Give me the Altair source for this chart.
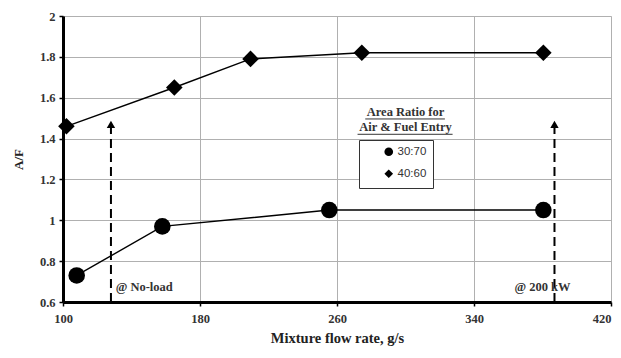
import altair as alt
import pandas as pd

# Data
flow_3070 = [108, 158, 255.5, 380.5]
af_3070 = [0.73, 0.97, 1.05, 1.05]
flow_4060 = [102, 165, 209.5, 274.5, 380.5]
af_4060 = [1.46, 1.65, 1.79, 1.82, 1.82]
series_names = ["30:70", "40:60"]

arrow_x = [128, 387]
arrow_bottom = [0.6, 0.6]
arrow_top = [1.47, 1.47]
arrow_labels = ["@ No-load", "@ 200 kW"]

legend_title_lines = ["Area Ratio for", "Air & Fuel Entry"]

x_ticks = [100, 180, 260, 340, 420]
y_ticks = [0.6, 0.8, 1.0, 1.2, 1.4, 1.6, 1.8, 2.0]

SERIF = "Liberation Serif"

rows = []
for x, y in zip(flow_3070, af_3070):
    rows.append({"flow": x, "af": y, "series": series_names[0]})
for x, y in zip(flow_4060, af_4060):
    rows.append({"flow": x, "af": y, "series": series_names[1]})
df = pd.DataFrame(rows)

xscale = alt.Scale(domain=[100, 420], nice=False, zero=False)
yscale = alt.Scale(domain=[0.6, 2.0], nice=False, zero=False)

xaxis = alt.Axis(values=x_ticks, title="Mixture flow rate, g/s", grid=True, labelFlush=False,
                 labelAlign=alt.condition("datum.value >= 420", alt.value("right"), alt.value("center")),
                 gridColor="#b0b0b0", gridWidth=1, domainColor="black", domainWidth=3,
                 tickColor="black", tickSize=4, tickWidth=1.5,
                 labelFont=SERIF, labelFontWeight="bold", labelFontSize=12.5, labelColor="#333",
                 labelPadding=6, titleFont=SERIF, titleFontWeight="bold", titleFontSize=14.5,
                 titleColor="#222", titlePadding=7)
yaxis = alt.Axis(values=y_ticks, title="A/F", grid=True, format="~g", labelFlush=False,
                 gridColor="#b0b0b0", gridWidth=1, domainColor="black", domainWidth=3,
                 tickColor="black", tickSize=4, tickWidth=1.5,
                 labelFont=SERIF, labelFontWeight="bold", labelFontSize=12.5, labelColor="#333",
                 labelPadding=4, titleFont=SERIF, titleFontWeight="bold", titleFontSize=13,
                 titleColor="#222", titlePadding=14)

base = alt.Chart(df)

lines = base.mark_line(color="black", strokeWidth=1.4).encode(
    x=alt.X("flow:Q", scale=xscale, axis=xaxis),
    y=alt.Y("af:Q", scale=yscale, axis=yaxis),
    detail="series:N",
)

points = base.mark_point(filled=True, opacity=1, size=275).encode(
    x=alt.X("flow:Q", scale=xscale),
    y=alt.Y("af:Q", scale=yscale),
    shape=alt.Shape("series:N",
                    scale=alt.Scale(domain=series_names, range=["circle", "diamond"]),
                    legend=alt.Legend(orient="none", legendX=296, legendY=124, title=None,
                                      strokeColor="#333", fillColor="white", padding=6,
                                      labelFont="Liberation Sans", labelFontSize=11.5,
                                      labelColor="#333", symbolFillColor="black",
                                      symbolStrokeColor="black", symbolSize=75,
                                      symbolType="circle",
                                      rowPadding=6, labelLimit=100, labelOffset=3,
                                      symbolOffset=18,
                                      labelExpr="datum.label + '            '")),
    color=alt.value("black"),
)

adf = pd.DataFrame({"x": arrow_x, "y0": arrow_bottom, "y1": arrow_top, "label": arrow_labels})

arrows = alt.Chart(adf).mark_rule(color="black", strokeWidth=2, strokeDash=[9, 5]).encode(
    x=alt.X("x:Q", scale=xscale), y=alt.Y("y0:Q", scale=yscale), y2="y1:Q")
heads = alt.Chart(adf).mark_point(shape="triangle-up", filled=True, color="black", size=70, opacity=1).encode(
    x=alt.X("x:Q", scale=xscale), y=alt.Y("y1:Q", scale=yscale))

label_df = pd.DataFrame({"x": [129, 380], "y": [0.675, 0.675], "label": arrow_labels})
label_left = alt.Chart(label_df.iloc[[0]]).mark_text(
    font=SERIF, fontWeight="bold", fontSize=12.5, align="left", dx=3, color="#333").encode(
    x=alt.X("x:Q", scale=xscale), y=alt.Y("y:Q", scale=yscale), text="label:N")
label_right = alt.Chart(label_df.iloc[[1]]).mark_text(
    font=SERIF, fontWeight="bold", fontSize=12.5, align="center", color="#333").encode(
    x=alt.X("x:Q", scale=xscale), y=alt.Y("y:Q", scale=yscale), text="label:N")

ltitle_df = pd.DataFrame({"x": [300, 300], "y": [1.53, 1.455], "label": legend_title_lines})
ltitle = alt.Chart(ltitle_df).mark_text(
    font=SERIF, fontWeight="bold", fontSize=12.5, align="center", color="#333").encode(
    x=alt.X("x:Q", scale=xscale), y=alt.Y("y:Q", scale=yscale), text="label:N")

uline_df = pd.DataFrame({"x0": [276.5, 272], "x1": [323, 327.5], "y": [1.496, 1.421]})
ulines = alt.Chart(uline_df).mark_rule(color="#333", strokeWidth=1).encode(
    x=alt.X("x0:Q", scale=xscale), x2="x1:Q", y=alt.Y("y:Q", scale=yscale))

chart = alt.layer(lines, arrows, heads, points, label_left, label_right, ltitle, ulines).properties(
    width=548, height=286,
    autosize=alt.AutoSizeParams(type="none"),
    padding={"left": 55, "top": 8, "right": 2, "bottom": 48},
).configure_view(stroke="black", strokeWidth=2).configure(background="white")

chart.save("out.html", embed_options={"renderer": "svg", "actions": False})
